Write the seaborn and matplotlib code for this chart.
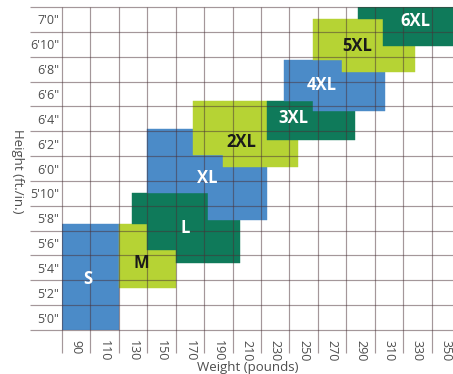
import numpy as np
import pandas as pd
import matplotlib
matplotlib.use('Agg')
import matplotlib.pyplot as plt
import seaborn as sns

## sizes, colours and where the size name sits (weight lb, height in)
sizes = ['S', 'M', 'L', 'XL', '2XL', '3XL', '4XL', '5XL', '6XL']
size_colors = ['#4b8bc8', '#b6d334', '#0f7a5a', '#4b8bc8', '#b6d334', '#0f7a5a', '#4b8bc8', '#b6d334', '#0f7a5a']
text_colors = ['white', '#1a1a1a', 'white', 'white', '#1a1a1a', 'white', 'white', '#1a1a1a', 'white']
label_w = [98.5, 135.5, 167, 182, 206.5, 242.5, 263, 287.5, 328.5]
label_h = [63.1, 64.4, 67.2, 71.2, 74.1, 76.1, 78.7, 81.9, 83.9]

## every size is a staircase made of a few blocks
block_size = ['S',
              'M', 'M',
              'L', 'L', 'L', 'L',
              'XL', 'XL', 'XL', 'XL',
              '2XL', '2XL', '2XL',
              '3XL', '3XL',
              '4XL', '4XL', '4XL',
              '5XL', '5XL', '5XL',
              '6XL', '6XL']
block_w_lo = [80,
              120, 140,
              129.5, 140, 160, 183,
              140, 172.5, 183, 193.5,
              172.5, 193.5, 224,
              224, 256.5,
              236, 256.5, 277,
              256.5, 277, 306,
              288.5, 306]
block_w_hi = [120,
              140, 160,
              140, 160, 183, 205.5,
              172.5, 183, 193.5, 224,
              193.5, 224, 246,
              256.5, 286,
              256.5, 277, 307,
              277, 306, 328.5,
              306, 360]
block_h_lo = [59,
              62.4, 62.4,
              67.5, 65.4, 64.4, 64.4,
              70, 70, 67.85, 67.85,
              73.1, 72.1, 72.1,
              74.3, 74.3,
              77.4, 76.6, 76.6,
              80.7, 79.8, 79.8,
              84.0, 81.9]
block_h_hi = [67.5,
              67.5, 65.4,
              70, 70, 70, 67.85,
              75.2, 73.1, 73.1, 72.1,
              77.4, 77.4, 74.3,
              77.4, 76.6,
              80.7, 80.7, 79.8,
              84.0, 84.0, 81.9,
              85, 85]

## axes ticks
weight_ticks = [90, 110, 130, 150, 170, 190, 210, 230, 250, 270, 290, 310, 330, 350]
height_ticks = [60, 62, 64, 66, 68, 70, 72, 74, 76, 78, 80, 82, 84]
height_labels = ['5\'0"', '5\'2"', '5\'4"', '5\'6"', '5\'8"', '5\'10"', '6\'0"',
                 '6\'2"', '6\'4"', '6\'6"', '6\'8"', '6\'10"', '7\'0"']

sns.set_theme(style='white')
plt.rcParams['font.family'] = ['Open Sans', 'DejaVu Sans']

df = pd.DataFrame({'size': block_size, 'w_lo': block_w_lo, 'w_hi': block_w_hi,
                   'h_lo': block_h_lo, 'h_hi': block_h_hi})
colorMap = dict(zip(sizes, size_colors))
df['color'] = df['size'].map(colorMap)

fig = plt.figure(figsize=(4.53, 3.74), dpi=100)
ax = fig.add_axes([62 / 453, 44 / 374, 391 / 453, 323 / 374])

ax.bar(df['w_lo'], df['h_hi'] - df['h_lo'], width=df['w_hi'] - df['w_lo'],
       bottom=df['h_lo'], align='edge', color=df['color'], edgecolor=df['color'],
       linewidth=0.3, zorder=1)

ax.set_xlim(80, 355.1)
ax.set_ylim(59, 85)

## grid cells around each tick, lines run out into the label area
col_edges = np.append(np.array(weight_ticks) - 10, weight_ticks[-1] + 10)
row_edges = np.append(np.array(height_ticks) - 1, height_ticks[-1] + 1)
gridCol = '#4a3036'
ax.hlines(row_edges, 57.8, 360, color=gridCol, alpha=0.5, lw=0.85, clip_on=False, zorder=2)
ax.vlines(col_edges[col_edges < 355], 57.15, 85, color=gridCol, alpha=0.5, lw=0.85, clip_on=False, zorder=2)

for s, w, h, c in zip(sizes, label_w, label_h, text_colors):
    ax.text(w, h, s, ha='center', va='center', fontsize=12, fontweight='bold', color=c, zorder=3)

ax.set_xticks(weight_ticks)
ax.set_xticklabels([str(t) for t in weight_ticks], rotation=270)
ax.set_yticks(height_ticks)
ax.set_yticklabels(height_labels)
ax.tick_params(axis='both', length=0, colors='#4d4d4d', labelsize=9)
ax.tick_params(axis='x', pad=7)
ax.tick_params(axis='y', pad=2)
sns.despine(ax=ax, left=True, bottom=True)

ax.set_xlabel('Weight (pounds)', fontsize=9.5, color='#4d4d4d', va='top')
ax.xaxis.set_label_coords(0.476, -0.097)
ax.set_ylabel('Height (ft./in.)', fontsize=9.5, color='#4d4d4d', rotation=270, va='center')
ax.yaxis.set_label_coords(-0.115, 0.49)

plt.savefig('out.png', dpi=100)
